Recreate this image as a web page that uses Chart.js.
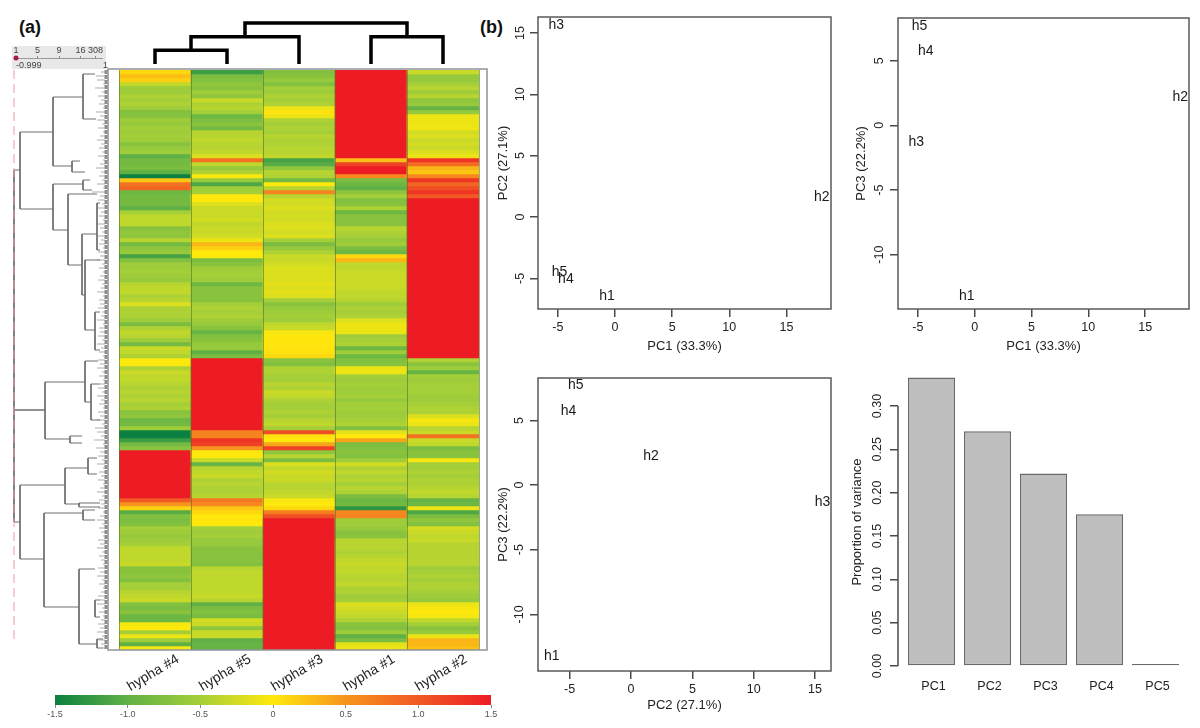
<!DOCTYPE html>
<html>
<head>
<meta charset="utf-8">
<title>hypha heatmap and PCA</title>
<script src="https://cdn.jsdelivr.net/npm/chart.js@4/dist/chart.umd.min.js"></script>
<style>
  html, body { margin: 0; padding: 0; background: #fff; width: 1200px; height: 728px; overflow: hidden; }
  canvas { position: absolute; }
  .txt { position: absolute; font-family: "Liberation Sans", Arial, sans-serif; white-space: nowrap; }
  .panel { font-weight: bold; font-size: 18px; color: #111; }
  .key { font-size: 9px; color: #444; }
  #heat { filter: blur(0.6px); }
  #rowTree { filter: blur(0.3px); }
</style>
</head>
<body>
<div class="txt panel" style="left:19px;top:17px">(a)</div>
<div class="txt panel" style="left:480px;top:17px">(b)</div>
<canvas id="rowKey" width="94" height="23" style="left:12px;top:46px;background:#e8e8e8"></canvas>
<div class="txt key" style="left:16px;top:60px">-0.999</div>
<div class="txt key" style="left:103px;top:60px">1</div>
<canvas id="rowTree" width="108" height="580" style="left:0;top:70px"></canvas>
<canvas id="colTree" width="400" height="66" style="left:100px;top:0"></canvas>
<canvas id="heat" width="400" height="640" style="left:100px;top:60px"></canvas>
<canvas id="scaleBar" width="470" height="38" style="left:40px;top:690px"></canvas>
<canvas id="pcaA" width="352" height="350" style="left:488px;top:9px"></canvas>
<canvas id="pcaB" width="350" height="349" style="left:848px;top:10px"></canvas>
<canvas id="pcaC" width="352" height="351" style="left:488px;top:370px"></canvas>
<canvas id="variance" width="349" height="330" style="left:845px;top:370px"></canvas>

<script>
// ---- data ----
const hyphaNames = ["hypha #4", "hypha #5", "hypha #3", "hypha #1", "hypha #2"];

// one z-score per gene row, top to bottom
const hypha4 = [
  0.1,0.25,0.15,-0.35,-0.55,-0.55,-0.45,-0.5,-0.45,-0.55,
  -0.75,-0.7,-0.55,-0.6,-0.5,-0.55,-0.5,-0.55,-0.7,-0.6,
  -0.55,-1.0,-0.85,-0.85,-0.8,-1.0,-1.5,0.2,0.8,0.9,
  -0.9,-0.85,-0.85,-0.85,-1.0,-0.5,-0.35,-0.35,-0.35,-0.7,
  -0.65,-0.65,-0.4,-0.85,-0.65,-0.6,-1.15,-0.75,-0.55,-0.55,
  -0.5,-0.55,-0.6,-0.4,-0.35,-0.35,-0.45,-0.4,-0.2,-0.45,
  -0.45,-0.45,-0.55,-0.8,-0.45,-0.35,-0.4,-0.55,-0.85,-0.3,
  -0.35,-0.45,-0.02,-0.02,-0.45,-0.3,-0.35,-0.35,-0.4,-0.45,
  -0.4,-0.45,-0.4,-0.5,-0.45,-0.7,-0.65,-0.9,-0.85,-0.55,
  -1.5,-1.5,-1.2,-0.85,-0.7,1.5,1.5,1.5,1.5,1.5,
  1.5,1.5,1.5,1.5,1.5,1.5,1.5,1.0,0.5,0.15,
  -1.05,-0.75,-0.8,-0.75,-0.5,-0.55,-0.6,-0.55,-0.5,-0.35,
  -0.35,-0.35,-0.35,-0.3,-0.7,-0.7,-0.65,-0.75,-0.5,-0.5,
  -0.4,-0.35,-0.3,-0.75,-0.8,-0.7,-0.9,-0.9,-0.05,0,
  -0.5,-0.1,-0.55,-1.0,-0.05
];
const hypha5 = [
  -1.2,-0.8,-0.75,-0.65,-0.7,-0.55,-0.65,-0.3,-0.45,-0.4,
  -0.5,-0.9,-0.8,-0.7,-0.85,-0.4,-0.4,-0.35,-0.4,-0.4,
  -0.35,-0.2,0.8,-0.35,-0.6,-0.45,-0.02,-0.6,-1.1,-0.55,
  -0.5,0,0.02,-0.2,-0.3,-0.3,-0.3,-0.25,-0.35,-0.3,
  -0.3,-0.25,-0.1,0.3,0.15,0,0,-0.8,-0.7,-0.55,
  -0.5,-0.5,-0.55,-0.9,-0.7,-0.7,-0.7,-0.7,-0.5,-0.45,
  -0.5,-0.45,-0.55,-0.6,-0.7,-0.95,-0.75,-0.7,-0.6,-0.6,
  -1.0,-0.8,1.5,1.5,1.5,1.5,1.5,1.5,1.5,1.5,
  1.5,1.5,1.5,1.5,1.5,1.5,1.5,1.5,1.5,1.5,
  0.65,0.65,1.3,1.2,0.5,-0.02,0,-0.3,-0.95,-0.4,
  -0.35,-0.3,-0.45,-0.4,-0.45,-0.45,-0.4,0.75,0.6,0.2,
  0.1,0,0.02,-0.02,-0.5,-0.55,-0.5,-0.6,-0.6,-0.7,
  -0.7,-0.7,-0.7,-0.75,-0.4,-0.35,-0.35,-0.35,-0.35,-0.35,
  -0.35,-0.3,-0.4,-1.0,-0.8,-0.75,-0.8,-0.25,-0.3,-0.65,
  -0.3,-0.3,-1.0,-0.95,-0.95
];
const hypha3 = [
  -0.75,-0.7,-0.6,-0.75,-0.5,-0.55,-0.45,-0.5,-0.45,-0.1,
  0.05,-0.1,-0.45,-0.5,-0.45,-0.5,-0.4,-0.45,-0.45,-0.4,
  -0.4,-0.35,-1.15,-1.05,-0.65,-0.4,-0.45,-0.85,0,-0.4,
  0.65,-0.4,-0.25,-0.25,-0.2,-0.25,-0.25,-0.25,-0.2,-0.2,
  -0.25,-0.2,-0.5,-0.8,-0.6,-0.45,-0.3,-0.3,-0.25,-0.2,
  -0.2,-0.2,-0.2,-0.15,-0.2,-0.15,-0.2,-0.5,-0.7,-0.6,
  -0.55,-0.5,-0.55,-0.35,-0.3,-0.05,0.02,0.03,0.03,0.03,
  0.05,0.1,-0.7,-0.75,-0.45,-0.45,-0.5,-0.5,-0.4,-0.45,
  -0.3,-0.35,-0.45,-0.5,-0.5,-0.45,-0.5,-0.4,-0.35,-0.5,
  1.1,0.05,0,0.4,1.2,-0.65,-0.4,-0.8,-0.2,-0.35,
  -0.25,-0.3,-0.3,-0.4,-0.4,-0.35,-0.3,-0.05,0,0.1,
  0.7,1.1,1.5,1.5,1.5,1.5,1.5,1.5,1.5,1.5,
  1.5,1.5,1.5,1.5,1.5,1.5,1.5,1.5,1.5,1.5,
  1.5,1.5,1.5,1.5,1.5,1.5,1.5,1.5,1.5,1.5,
  1.5,1.5,1.5,1.5,1.5
];
const hypha1 = [
  1.5,1.5,1.5,1.5,1.5,1.5,1.5,1.5,1.5,1.5,
  1.5,1.5,1.5,1.5,1.5,1.5,1.5,1.5,1.5,1.5,
  1.5,1.5,0.25,1.2,1.5,1.5,0.6,-0.8,-0.9,-1.0,
  -0.65,-0.5,-0.75,-0.7,-0.45,-0.9,-0.7,-0.7,-0.7,-0.4,
  -0.45,-0.5,-0.6,-0.55,-0.8,-0.9,0.1,0.3,-0.35,-0.35,
  -0.3,-0.3,-0.3,-0.3,-0.3,-0.35,-0.35,-0.4,-0.55,-0.45,
  -0.5,-0.45,-0.2,-0.1,-0.1,-0.1,-0.55,-0.5,-0.45,-0.9,
  -0.55,-0.9,-0.75,-0.7,-0.1,-0.1,-0.5,-0.55,-0.5,-0.55,
  -0.55,-0.5,-0.6,-0.5,-0.5,-0.55,-0.55,-0.5,-0.45,-0.75,
  -0.15,0,0.4,-0.8,-0.75,-0.7,-0.75,-0.55,-0.25,-0.45,
  -0.35,-0.45,-0.4,-0.5,-0.4,-0.45,-0.8,-0.9,-0.85,-1.3,
  0.6,0.65,-0.55,-0.55,-0.6,-0.7,-0.7,-0.4,-0.4,-0.4,
  -0.45,-0.4,-0.35,-0.3,-0.35,-0.35,-0.4,-0.4,-0.35,-0.45,
  -0.45,-0.55,-0.5,-0.2,-0.25,-0.3,-0.35,-0.45,-0.7,-0.75,
  -0.55,-1.0,-0.8,-0.15,-0.1
];
const hypha2 = [
  -0.3,-0.6,-0.6,-0.5,-0.4,-0.55,-0.4,-0.65,-0.6,-0.95,
  -0.6,-0.1,-0.1,-0.1,-0.08,-0.25,-0.2,-0.3,-0.25,-0.3,
  -0.2,-0.1,1.3,0.85,0.3,0.2,0.6,1.3,0.9,1.1,
  1.3,1.0,1.5,1.5,1.5,1.5,1.5,1.5,1.5,1.5,
  1.5,1.5,1.5,1.5,1.5,1.5,1.5,1.5,1.5,1.5,
  1.5,1.5,1.5,1.5,1.5,1.5,1.5,1.5,1.5,1.5,
  1.5,1.5,1.5,1.5,1.5,1.5,1.5,1.5,1.5,1.5,
  1.5,1.5,-0.45,-0.7,-0.55,-0.95,-0.5,-0.55,-0.5,-0.5,
  -0.5,-0.55,-0.55,-0.5,-0.45,-0.45,-0.2,-0.05,-0.1,-0.4,
  -0.3,0.8,-0.3,-0.35,-0.8,-0.7,-0.7,-0.05,-0.5,-0.5,
  -0.45,-0.5,-0.45,-0.45,-0.4,-0.35,-0.4,-0.95,-0.9,-0.1,
  -1.1,-0.8,-0.65,-0.75,-0.25,-0.3,-0.35,-0.3,-0.4,-0.4,
  -0.4,-0.4,-0.4,-0.4,-0.55,-0.5,-0.45,-0.5,-0.45,-0.45,
  -0.5,-0.55,-0.6,-0.1,-0.05,0,-0.05,-0.35,-0.5,-0.7,
  -0.6,-0.1,0.3,0.3,0.25
];

// colour key stops
const scaleTicks = [-1.5, -1.0, -0.5, 0, 0.5, 1.0, 1.5];
const scaleColors = ["#0b8040", "#5fb146", "#a5cf39", "#ffe90c", "#f7941d", "#f15a25", "#ed1c24"];

// column dendrogram: [left leaf, right leaf, merge height, left height, right height]
const colMerges = [
  [0, 1, 1, 0, 0],
  [0.5, 2, 2, 1, 0],
  [3, 4, 2, 0, 0],
  [1.25, 3.5, 3, 2, 2]
];

// row dendrogram: [distance, top row, bottom row, top child distance, bottom child distance]
const rowMerges = [
  [14, 25, 113, 20, 20],
  [20, 15.5, 34.75, 53, 53],
  [53, 6.75, 24, 83, 72],
  [83, 1, 12.25, 95, 96],
  [72, 22.75, 25.5, 80, 85],
  [53, 28.5, 40, 83, 68],
  [83, 27.5, 30, 90, 92],
  [68, 31, 48.75, 97, 82],
  [82, 41, 56.25, 97, 85],
  [97, 33.25, 45, 100, 100],
  [85, 47.5, 65, 100, 95],
  [95, 60.5, 70, 100, 100],
  [14, 85, 85, 45, 45],
  [45, 78, 92.25, 85, 70],
  [85, 72.75, 83, 98, 91],
  [91, 78.5, 87.5, 100, 100],
  [70, 91.5, 93.25, 82, 82],
  [20, 103.75, 122.25, 65, 44],
  [65, 99.5, 108.5, 88, 79],
  [88, 97, 101, 97, 97],
  [79, 108.25, 109.25, 100, 100],
  [44, 110.75, 134.25, 83, 79],
  [83, 110, 112.5, 95, 95],
  [79, 124.75, 143.5, 95, 97],
  [95, 132.5, 136.75, 100, 100],
  [97, 142.25, 144.5, 103, 103]
];

// where each row's leaf leaves the tree
const rowLeaves = [
  101,96,97,103,95,102,98,101,99,103,96,100,97,102,98,103,100,97,101,99,
  102,98,103,100,96,101,99,102,97,103,92,100,98,102,97,101,99,103,98,100,
  102,97,101,99,103,98,100,97,102,99,103,100,98,102,101,97,103,99,100,98,
  102,101,97,103,99,100,98,102,97,101,99,103,98,100,97,102,99,103,100,98,
  102,97,101,99,103,98,100,97,102,95,97,101,94,103,96,100,98,102,97,103,
  99,101,98,103,100,97,102,99,101,98,103,100,97,102,99,101,103,98,100,97,
  102,99,101,103,98,100,97,102,99,103,101,98,100,97,102,99,103,101,98,100,
  97,102,99,101,103
];
const rowCutDistance = 14;

// row colour key, top left
const keyLabels = ["1", "5", "9", "16", "308"];
const keyTicks = [0, 1, 2, 3, 3.7];

// PCA scores for h1..h5
const sampleNames = ["h1", "h2", "h3", "h4", "h5"];
const pc1 = [-0.7, 18.1, -5.15, -4.3, -4.85];
const pc2 = [-6.45, 1.63, 15.6, -5.1, -4.5];
const pc3 = [-13.2, 2.2, -1.3, 5.7, 7.7];

// scree plot
const pcNames = ["PC1", "PC2", "PC3", "PC4", "PC5"];
const pcVariance = [0.333, 0.271, 0.222, 0.175, 0.0006];

// ---- helpers ----
Chart.defaults.animation = false;
Chart.defaults.responsive = false;
Chart.defaults.font.family = '"Liberation Sans", Arial, sans-serif';
Chart.defaults.plugins.legend.display = false;
Chart.defaults.plugins.tooltip.enabled = false;

function hexRgb(h) {
  return [1, 3, 5].map(i => parseInt(h.substr(i, 2), 16));
}

function zColor(z) {
  const v = Math.max(-1.5, Math.min(1.5, z));
  let i = 0;
  while (i < scaleTicks.length - 2 && v > scaleTicks[i + 1]) i++;
  const t = (v - scaleTicks[i]) / (scaleTicks[i + 1] - scaleTicks[i]);
  const a = hexRgb(scaleColors[i]), b = hexRgb(scaleColors[i + 1]);
  const c = a.map((x, k) => Math.round(x + (b[k] - x) * t));
  return `rgb(${c[0]},${c[1]},${c[2]})`;
}

// turns U shaped merges into one broken line
function mergesToPoints(merges) {
  const out = [];
  merges.forEach(([d, top, bottom, dTop, dBottom]) => {
    out.push({x: dTop, y: top}, {x: d, y: top}, {x: d, y: bottom}, {x: dBottom, y: bottom}, {x: NaN, y: NaN});
  });
  return out;
}

// fixed axis size, and tick labels must not push the plot area in
function fixSize(prop, size) {
  return s => {
    s[prop] = size;
    s.paddingLeft = s.paddingRight = s.paddingTop = s.paddingBottom = 0;
  };
}

// frame around the plot area
const framePlugin = {
  id: "frame",
  afterDraw(chart, args, opts) {
    const a = chart.chartArea, c = chart.ctx;
    const p = opts.pad || [0, 0, 0, 0];
    c.save();
    c.strokeStyle = opts.color;
    c.lineWidth = opts.width;
    c.strokeRect(a.left - p[0], a.top - p[1], a.width + p[0] + p[2], a.height + p[1] + p[3]);
    c.restore();
  }
};

// h1..h5 are written at the score position
const sampleText = {
  id: "sampleText",
  afterDatasetsDraw(chart) {
    const c = chart.ctx, ds = chart.data.datasets[0];
    c.save();
    c.font = '14px "Liberation Sans", Arial, sans-serif';
    c.fillStyle = "#1a1a1a";
    c.textAlign = "center";
    c.textBaseline = "middle";
    ds.data.forEach((p, i) => {
      c.fillText(sampleNames[i], chart.scales.x.getPixelForValue(p.x), chart.scales.y.getPixelForValue(p.y));
    });
    c.restore();
  }
};

function pcaChart(id, xs, ys, xTitle, yTitle, xRange, yRange, yPad, titlePad, xTitlePad) {
  const tickFont = {size: 12.5};
  return new Chart(document.getElementById(id), {
    type: "scatter",
    data: {datasets: [{data: xs.map((x, i) => ({x: x, y: ys[i]})), pointRadius: 0, clip: false}]},
    options: {
      layout: {padding: {top: 8, right: 9}},
      plugins: {frame: {color: "#5a5a5a", width: 1.5}},
      scales: {
        x: {
          min: xRange[0], max: xRange[1],
          afterFit: fixSize("height", 50),
          border: {display: false},
          grid: {drawOnChartArea: false, tickLength: 8, color: "#4a4a4a", lineWidth: 1.5},
          ticks: {stepSize: 5, includeBounds: false, padding: 3, maxRotation: 0, color: "#222", font: tickFont},
          title: {display: true, text: xTitle, color: "#222", font: {size: 13}, padding: {top: 0, bottom: xTitlePad}}
        },
        y: {
          min: yRange[0], max: yRange[1],
          afterFit: fixSize("width", 50),
          border: {display: false},
          grid: {drawOnChartArea: false, tickLength: 8, color: "#4a4a4a", lineWidth: 1.5},
          ticks: {stepSize: 5, includeBounds: false, padding: yPad, minRotation: 90, crossAlign: "center", color: "#222", font: tickFont},
          title: {display: true, text: yTitle, color: "#222", font: {size: 13}, padding: {top: titlePad, bottom: 0}}
        }
      }
    },
    plugins: [framePlugin, sampleText]
  });
}

// ---- heatmap ----
const hyphaColumns = [hypha4, hypha5, hypha3, hypha1, hypha2];
const rowDatasets = hypha4.map((_, r) => ({
  data: hyphaColumns.map(() => 1),
  backgroundColor: hyphaColumns.map(col => zColor(col[r])),
  borderWidth: 0,
  barPercentage: 1,
  categoryPercentage: 1
}));

new Chart(document.getElementById("heat"), {
  type: "bar",
  data: {labels: hyphaNames, datasets: rowDatasets},
  options: {
    layout: {padding: {left: 19, right: 21, top: 10}},
    plugins: {frame: {color: "#8e9499", width: 1.5, pad: [11, 1, 8, 0]}},
    scales: {
      x: {
        stacked: true,
        afterFit: fixSize("height", 50),
        border: {display: false},
        grid: {offset: true, z: 1, drawTicks: false, color: "rgba(85,115,45,0.6)", lineWidth: 1},
        ticks: {minRotation: 31, maxRotation: 31, labelOffset: 23, padding: 1, autoSkip: false, color: "#222", font: {size: 14}}
      },
      y: {stacked: true, reverse: true, min: 0, max: hypha4.length, display: false}
    }
  },
  plugins: [framePlugin]
});

// ---- column tree ----
const colSegments = [];
colMerges.forEach(([a, b, h, ha, hb]) => {
  colSegments.push({x: a, y: ha}, {x: a, y: h}, {x: b, y: h}, {x: b, y: hb}, {x: NaN, y: NaN});
});
new Chart(document.getElementById("colTree"), {
  type: "scatter",
  data: {datasets: [{
    data: colSegments, showLine: true, pointRadius: 0, clip: false,
    borderColor: "#000", borderWidth: 3.5, borderJoinStyle: "miter", borderCapStyle: "butt"
  }]},
  options: {
    layout: {padding: {left: 19, right: 21, top: 23, bottom: 2}},
    scales: {
      x: {display: false, min: -0.5, max: 4.5},
      y: {display: false, min: 0, max: 3}
    }
  }
});

// ---- row tree ----
const leafSegments = [];
rowLeaves.forEach((d, r) => {
  leafSegments.push({x: d, y: r + 0.5}, {x: 105, y: r + 0.5}, {x: NaN, y: NaN});
});
new Chart(document.getElementById("rowTree"), {
  type: "scatter",
  data: {datasets: [
    {data: [{x: rowCutDistance, y: 0}, {x: rowCutDistance, y: 143.5}], showLine: true, pointRadius: 0, clip: false,
     borderColor: "#ee9aa2", borderWidth: 1, borderDash: [9, 5]},
    {data: leafSegments, showLine: true, pointRadius: 0, clip: false, borderColor: "#8b8b8b", borderWidth: 0.7},
    {data: mergesToPoints(rowMerges), showLine: true, pointRadius: 0, clip: false, borderColor: "#6f6f6f", borderWidth: 1},
    {data: [{x: 106, y: 0}, {x: 106, y: 145}], showLine: true, pointRadius: 0, clip: false,
     borderColor: "#8d8d8d", borderWidth: 3, borderDash: [4, 1]}
  ]},
  options: {
    scales: {
      x: {display: false, min: 0, max: 108},
      y: {display: false, reverse: true, min: 0, max: 145}
    }
  }
});

// ---- row key ----
new Chart(document.getElementById("rowKey"), {
  type: "scatter",
  data: {datasets: [{data: [{x: 0, y: 1}], pointRadius: 2.5, clip: false, backgroundColor: "#a8173c", borderWidth: 0}]},
  options: {
    layout: {padding: {left: 3}},
    scales: {
      x: {
        position: "top", min: 0, max: 4,
        afterFit: fixSize("height", 12),
        afterBuildTicks: s => { s.ticks = keyTicks.map(v => ({value: v})); },
        border: {color: "#9a9a9a"},
        grid: {drawOnChartArea: false, tickLength: 2, color: "#888"},
        ticks: {padding: 0, maxRotation: 0, autoSkip: false, color: "#444", font: {size: 9},
                callback: (v, i) => keyLabels[i]}
      },
      y: {display: false, min: 0, max: 1}
    }
  }
});

// ---- colour scale ----
new Chart(document.getElementById("scaleBar"), {
  type: "bar",
  data: {labels: ["z"], datasets: [{
    data: [[scaleTicks[0], scaleTicks[scaleTicks.length - 1]]],
    borderWidth: 0, barPercentage: 1, categoryPercentage: 1,
    backgroundColor: ctx => {
      const a = ctx.chart.chartArea;
      if (!a) return scaleColors[3];
      const g = ctx.chart.ctx.createLinearGradient(a.left, 0, a.right, 0);
      scaleColors.forEach((c, i) => g.addColorStop(i / (scaleColors.length - 1), c));
      return g;
    }
  }]},
  options: {
    indexAxis: "y",
    layout: {padding: {left: 15, right: 19, top: 5}},
    scales: {
      x: {
        min: -1.5, max: 1.5,
        afterFit: fixSize("height", 23),
        border: {display: false},
        grid: {drawOnChartArea: false, tickLength: 3, color: "#888"},
        ticks: {stepSize: 0.5, padding: 1, maxRotation: 0, color: "#555", font: {size: 9},
                callback: v => v === 0 ? "0" : v.toFixed(1)}
      },
      y: {display: false}
    }
  }
});

// ---- PCA panels ----
pcaChart("pcaA", pc1, pc2, "PC1 (33.3%)", "PC2 (27.1%)", [-6.74, 18.9], [-7.5, 16.3], 3, 8, 5);
pcaChart("pcaB", pc1, pc3, "PC1 (33.3%)", "PC3 (22.2%)", [-6.75, 18.86], [-14.2, 8.3], 1, 6, 5);
pcaChart("pcaC", pc2, pc3, "PC2 (27.1%)", "PC3 (22.2%)", [-7.58, 16.3], [-14.38, 8.28], 1, 8, 8);

// ---- scree plot ----
const axisLine = {
  id: "axisLine",
  afterDraw(chart) {
    const y = chart.scales.y, c = chart.ctx;
    c.save();
    c.strokeStyle = "#4a4a4a";
    c.lineWidth = 1.5;
    c.beginPath();
    c.moveTo(y.right, y.getPixelForValue(0));
    c.lineTo(y.right, y.getPixelForValue(0.3));
    c.stroke();
    c.restore();
  }
};
new Chart(document.getElementById("variance"), {
  type: "bar",
  data: {labels: pcNames, datasets: [{
    data: pcVariance, yAxisID: "y",
    backgroundColor: "#bebebe", borderColor: "#6a6a6a", borderWidth: 1.5, borderSkipped: false,
    barPercentage: 0.84, categoryPercentage: 1, clip: false, minBarLength: 2
  }]},
  options: {
    layout: {padding: {top: 8, right: 10.5}},
    scales: {
      x: {
        afterFit: fixSize("height", 34),
        border: {display: false},
        grid: {display: false},
        ticks: {padding: 5, labelOffset: 2, maxRotation: 0, color: "#222", font: {size: 12.5}}
      },
      y: {
        // left axes stack by descending weight, so this one stays outside the gap
        weight: 1, min: 0, max: 0.3323,
        afterFit: fixSize("width", 53),
        border: {display: false},
        grid: {drawOnChartArea: false, tickLength: 8, color: "#4a4a4a", lineWidth: 1.5},
        ticks: {stepSize: 0.05, includeBounds: false, padding: 0, minRotation: 90, crossAlign: "center", color: "#222", font: {size: 12.5},
                callback: v => v.toFixed(2)},
        title: {display: true, text: "Proportion of variance", color: "#222", font: {size: 13}, padding: {top: 5, bottom: 0}}
      },
      gap: {
        weight: 0, position: "left", min: 0, max: 1,
        afterFit: fixSize("width", 5.5),
        border: {display: false},
        grid: {display: false},
        ticks: {display: false}
      }
    }
  },
  plugins: [axisLine]
});
</script>
</body>
</html>
